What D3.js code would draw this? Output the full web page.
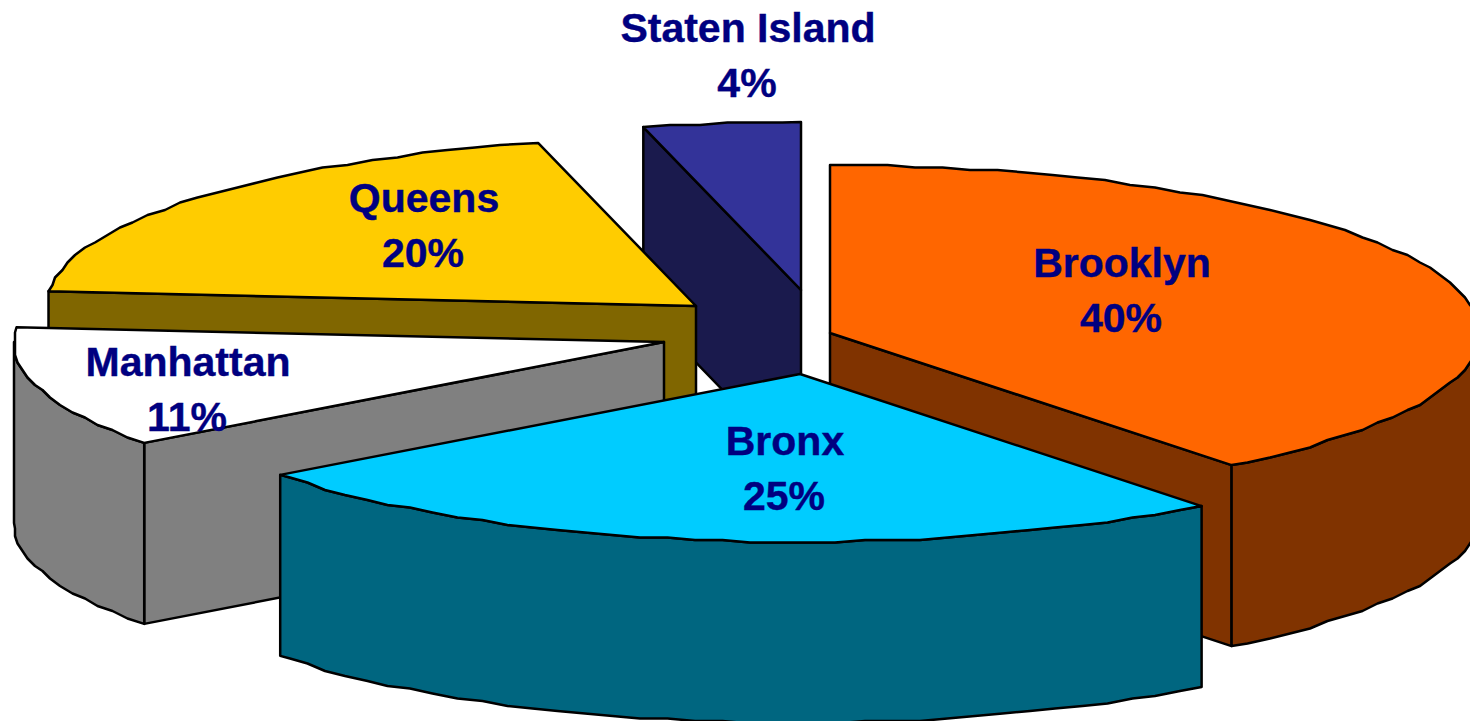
<!DOCTYPE html>
<html>
<head>
<meta charset="utf-8">
<script src="https://cdn.jsdelivr.net/npm/d3@7"></script>
<style>
  html, body { margin: 0; padding: 0; background: #fff; overflow: hidden; }
  svg { display: block; }
</style>
</head>
<body>
<div id="vis"></div>
<script>
// data
const boroughs = ['Brooklyn', 'Bronx', 'Manhattan', 'Queens', 'Staten Island'];
const shares = [39.4, 25.35, 11.65, 19.7, 3.9];  // measured from the slice angles
const shareLabels = ['40%', '25%', '11%', '20%', '4%'];
const topColors = ['#ff6600', '#00ccff', '#ffffff', '#ffcc00', '#333399'];
const sideColors = ['#803300', '#006680', '#808080', '#806600', '#1a1a4d'];

const width = 1470, height = 721;
const centre = {x: 800, y: 333};
const radiusX = 650, radiusY = 168, depth = 181;

// how far each slice is pulled out of the pie, and where its label sits
const explode = [[30, 0], [0, 41], [-136, 9], [-104, -27], [1, -43]];
const labelX = [1122, 785, 188, 424, 748];
const labelY = [277, 455, 376, 212, 42];
const lineGap = 55;

// back to front
const paintOrder = [4, 0, 3, 2, 1];

const svg = d3.select('#vis')
  .append('svg')
    .attr('width', width)
    .attr('height', height);

const x = d3.scaleLinear().domain([-1, 1]).range([-radiusX, radiusX]);
const y = d3.scaleLinear().domain([-1, 1]).range([-radiusY, radiusY]);

const slices = d3.pie().sort(null)(shares);
const line = d3.line();

function apex(i) {
  return [centre.x + explode[i][0], centre.y + explode[i][1]];
}

// angle is clockwise from 12 o'clock
function rim(i, a) {
  const p = apex(i);
  return [p[0] + x(Math.sin(a)), p[1] + y(-Math.cos(a))];
}

// the original outline is a coarse polyline, so snap the in-between points
function rimPath(i, a0, a1) {
  const step = 2.5 * Math.PI / 180;
  const pts = [rim(i, a0)];
  for (let a = a0 + step; a < a1 - step / 2; a += step) {
    const r = rim(i, a);
    pts.push([Math.round(r[0] / 2.5) * 2.5, Math.round(r[1] / 2.5) * 2.5]);
  }
  pts.push(rim(i, a1));
  return pts;
}

function down(p) {
  return [p[0], p[1] + depth];
}

function drawFace(g, pts, fill) {
  g.append('path')
    .attr('d', line(pts) + 'Z')
    .attr('fill', fill)
    .attr('stroke', '#000')
    .attr('stroke-width', 2.5)
    .attr('stroke-linejoin', 'round');
}

paintOrder.forEach(i => {
  const s = slices[i];
  const g = svg.append('g').attr('class', 'slice');
  const p = apex(i);

  // cut faces, only the ones turned to the viewer
  if (Math.sin(s.startAngle) < -1e-6) {
    const r = rim(i, s.startAngle);
    drawFace(g, [p, r, down(r), down(p)], sideColors[i]);
  }
  if (Math.sin(s.endAngle) > 1e-6) {
    const r = rim(i, s.endAngle);
    drawFace(g, [p, r, down(r), down(p)], sideColors[i]);
  }

  // outer wall, front half of the ellipse only
  const a0 = Math.max(s.startAngle, Math.PI / 2);
  const a1 = Math.min(s.endAngle, Math.PI * 1.5);
  if (a1 > a0) {
    const edge = rimPath(i, a0, a1);
    drawFace(g, edge.concat(edge.map(down).reverse()), sideColors[i]);
  }

  drawFace(g, [p].concat(rimPath(i, s.startAngle, s.endAngle)), topColors[i]);
});

const labels = svg.append('g')
    .attr('font-family', '"Liberation Sans", Arial, sans-serif')
    .attr('font-weight', 'bold')
    .attr('font-size', 41)
    .attr('fill', '#000080')
    .attr('stroke', '#000080')
    .attr('stroke-width', 0.4)
    .attr('text-anchor', 'middle');

boroughs.forEach((name, i) => {
  labels.append('text')
    .attr('x', labelX[i])
    .attr('y', labelY[i])
    .text(name);
  labels.append('text')
    .attr('x', labelX[i] - 1)
    .attr('y', labelY[i] + lineGap)
    .text(shareLabels[i]);
});
</script>
</body>
</html>
